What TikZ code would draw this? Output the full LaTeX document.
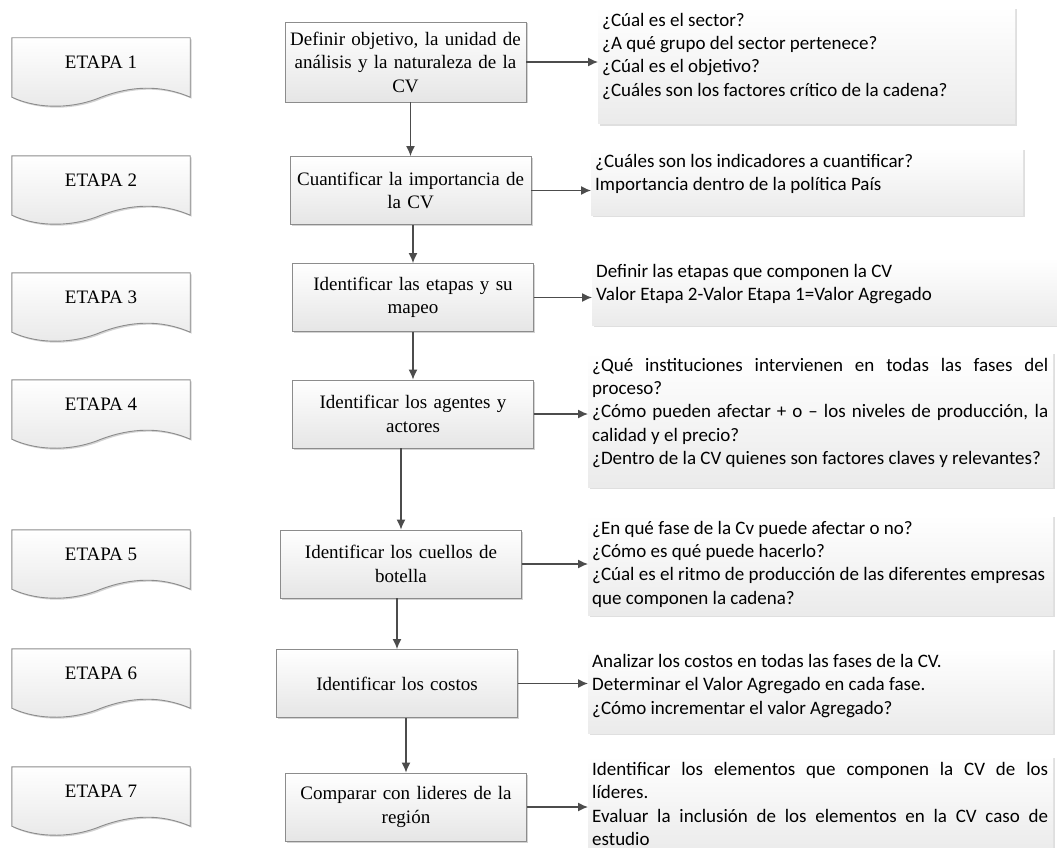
\documentclass[tikz,border=0pt]{standalone}
\usepackage{fontspec}
\setmainfont{Liberation Serif}
\newfontfamily\carlito{Carlito}
\usetikzlibrary{positioning,calc,shadows,backgrounds,arrows.meta}

\newcommand{\jline}[1]{\makebox[456pt][s]{#1}}

\begin{document}
\begin{tikzpicture}[
    x=1pt, y=-1pt,
    etapa/.style={rectangle, minimum width=178pt, minimum height=48pt, inner sep=0pt, font=\fontsize{19}{23.5}\selectfont},
    etapashape/.style={draw=black!45, line width=0.9pt, top color=white, bottom color=black!9, drop shadow={shadow xshift=1.5pt, shadow yshift=-1.5pt, opacity=0.35}},
    paso/.style={rectangle, draw=black!45, line width=0.9pt, top color=white, bottom color=black!10, drop shadow={shadow xshift=1.5pt, shadow yshift=-1.5pt, opacity=0.35}, minimum width=241pt, minimum height=68pt, text width=234pt, align=center, inner sep=0pt, font=\fontsize{19}{23.5}\selectfont},
    pregunta/.style={anchor=north west, align=left, inner xsep=4pt, inner ysep=6pt, font=\carlito\fontsize{19}{23.3}\selectfont},
    preguntabox/.style={top color=white, bottom color=black!8, drop shadow={shadow xshift=2pt, shadow yshift=-2pt, opacity=0.25}},
    arrow/.style={draw=black!70, line width=1.3pt, -{Latex[length=10pt,width=9pt]}}
]
\useasboundingbox (0,0) rectangle (1057,848);

% Etapas
\node[etapa] (e1) at (101,62) {ETAPA 1};
\node[etapa] (e2) at (101,180) {ETAPA 2};
\node[etapa] (e3) at (101,297) {ETAPA 3};
\node[etapa] (e4) at (101,404) {ETAPA 4};
\node[etapa] (e5) at (101,554) {ETAPA 5};
\node[etapa] (e6) at (101,673) {ETAPA 6};
\node[etapa] (e7) at (101,791) {ETAPA 7};

% Pasos
\node[paso, minimum height=80pt] (m1) at (405.5,62) {Definir objetivo, la unidad de\\análisis y la naturaleza de la\\CV};
\node[paso] (m2) at (410.5,190.5) {Cuantificar la importancia de\\la CV};
\node[paso] (m3) at (413,297.5) {Identificar las etapas y su\\mapeo};
\node[paso] (m4) at (413,414) {Identificar los agentes y\\actores};
\node[paso] (m5) at (401,564) {Identificar los cuellos de\\botella};
\node[paso] (m6) at (397,683.5) {Identificar los costos};
\node[paso] (m7) at (406,807) {Comparar con lideres de la\\región};

% Preguntas
\node[pregunta] (r1) at (598,7) {¿Cúal es el sector?\\¿A qué grupo del sector pertenece?\\¿Cúal es el objetivo?\\¿Cuáles son los factores crítico de la cadena?};
\node[pregunta] (r2) at (591,148) {¿Cuáles son los indicadores a cuantificar?\\Importancia dentro de la política País};
\node[pregunta] (r3) at (592,258) {Definir las etapas que componen la CV\\Valor Etapa 2-Valor Etapa 1=Valor Agregado};
\node[pregunta] (r4) at (588,352) {\jline{¿Qué instituciones intervienen en todas las fases del}\\proceso?\\\jline{¿Cómo pueden afectar + o – los niveles de producción, la}\\calidad y el precio?\\¿Dentro de la CV quienes son factores claves y relevantes?};
\node[pregunta] (r5) at (588,515) {¿En qué fase de la Cv puede afectar o no?\\¿Cómo es qué puede hacerlo?\\¿Cúal es el ritmo de producción de las diferentes empresas\\que componen la cadena?};
\node[pregunta] (r6) at (588,648) {Analizar los costos en todas las fases de la CV.\\Determinar el Valor Agregado en cada fase.\\¿Cómo incrementar el valor Agregado?};
\node[pregunta] (r7) at (588,756) {\jline{Identificar los elementos que componen la CV de los}\\líderes.\\\jline{Evaluar la inclusión de los elementos en la CV caso de}\\estudio};

% flujo vertical
\draw[arrow] (m1.south -| m2.north) -- (m2.north);
\draw[arrow] (m2.south -| m3.north) -- (m3.north);
\draw[arrow] (m3.south -| m4.north) -- (m4.north);
\draw[arrow] (m4.south -| m5.north) -- (m5.north);
\draw[arrow] (m5.south -| m6.north) -- (m6.north);
\draw[arrow] (m6.south -| m7.north) -- (m7.north);

% hacia las preguntas
\draw[arrow] (m1.east) -- (m1.east -| r1.west);
\draw[arrow] (m2.east) -- (m2.east -| r2.west);
\draw[arrow] (m3.east) -- (m3.east -| r3.west);
\draw[arrow] (m4.east) -- (m4.east -| r4.west);
\draw[arrow] (m5.east) -- (m5.east -| r5.west);
\draw[arrow] (m6.east) -- (m6.east -| r6.west);
\draw[arrow] (m7.east) -- (m7.east -| r7.west);

% Fondos
\begin{scope}[on background layer]
    \foreach \n in {1,...,7}
        \path[etapashape] (e\n.north west) -- (e\n.north east) -- ($(e\n.south east)+(0,11)$)
            .. controls ($(e\n.south east)+(-30,-2)$) and ($(e\n.south east)+(-60,0)$) .. ($(e\n.south)+(0,11)$)
            .. controls ($(e\n.south)+(-26,22)$) and ($(e\n.south)+(-61,24)$) .. ($(e\n.south west)+(0,11)$) -- cycle;
    \foreach \n/\w/\h in {1/417/117, 2/432/67, 3/465/67, 4/465/135, 5/465/100, 6/465/85, 7/465/97}
        \path[preguntabox] (r\n.north west) rectangle ++(\w,\h);
\end{scope}

\end{tikzpicture}
\end{document}
